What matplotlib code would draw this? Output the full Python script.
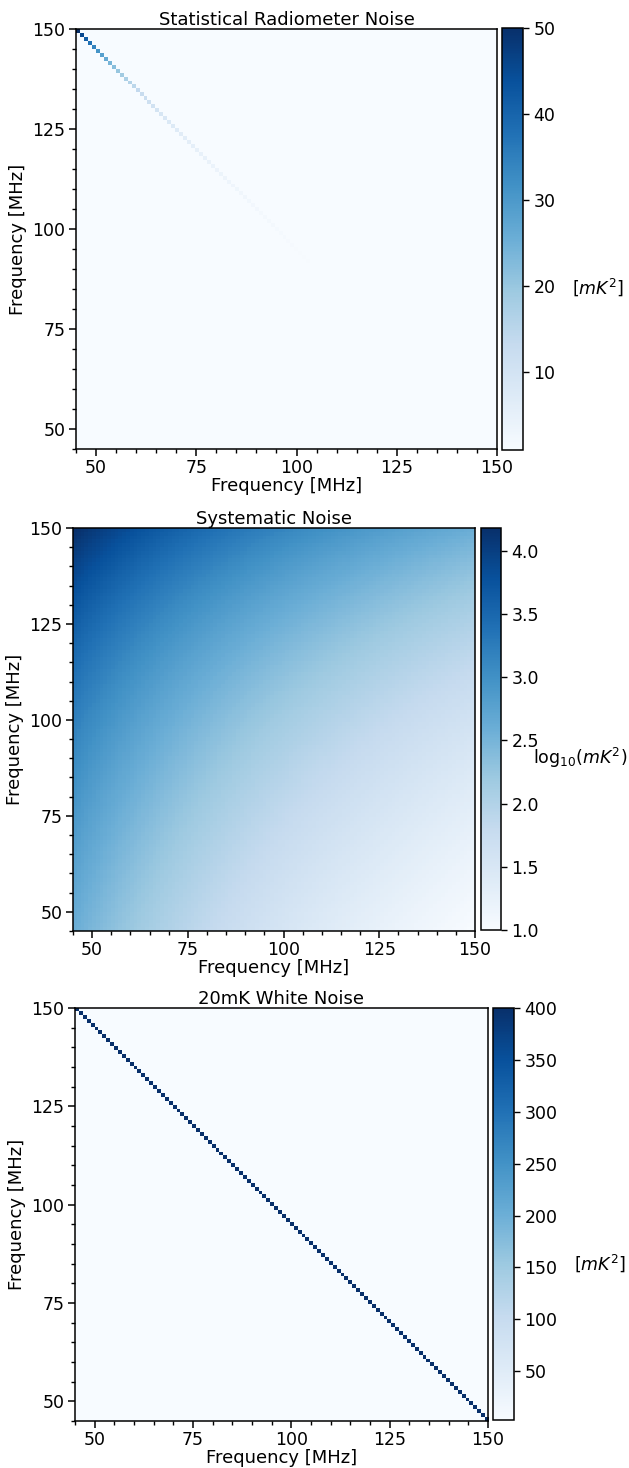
import numpy as np
import matplotlib
matplotlib.use('Agg')
import matplotlib.pyplot as plt
from matplotlib.ticker import MultipleLocator

# Frequency channels, 1 MHz steps
nu_min = 45
nu_max = 150
freqs = np.arange(nu_min, nu_max + 1)
nu_ref = 45.0

# Statistical radiometer noise: diagonal only, variance falls off as a power law
stat_peak = 50.0      # mK^2 at the lowest channel
stat_index = 4.5
stat_clim = (1.0, 50.0)

# Systematic noise: separable power law in both frequencies, shown as log10
sys_log_peak = 4.18   # log10(mK^2) at (45, 45)
sys_index = 3.04
sys_clim = (1.0, 4.18)

# 20 mK white noise
white_sigma = 20.0    # mK
white_clim = (3.0, 400.0)

titles = ['Statistical Radiometer Noise', 'Systematic Noise', '20mK White Noise']
cbar_labels = [r'$[mK^2]$', r'$\mathrm{log}_{10}(mK^2)$', r'$[mK^2]$']

# Build the three covariance matrices
ratio = freqs / nu_ref
stat_cov = np.diag(stat_peak * ratio**(-stat_index))
sys_cov = sys_log_peak - sys_index * (np.log10(ratio)[:, None] + np.log10(ratio)[None, :])
white_cov = np.diag(np.full(len(freqs), white_sigma**2))
matrices = [stat_cov, sys_cov, white_cov]
clims = [stat_clim, sys_clim, white_clim]

W, H = 629, 1468
fig = plt.figure(figsize=(W / 100, H / 100), dpi=100)

def box(x0, y0, x1, y1):
    # pixel box (top-left origin) -> figure fraction
    return [x0 / W, 1 - y1 / H, (x1 - x0) / W, (y1 - y0) / H]

ax_boxes = [box(76, 29, 497, 449), box(73, 528, 475, 931), box(75, 1008, 488, 1421)]
cb_boxes = [box(502, 28, 523, 450), box(481, 528, 501, 930), box(493, 1008, 514, 1420)]
label_pos = [(598, 287), (580, 758), (600, 1263)]

for i in range(3):
    ax = fig.add_axes(ax_boxes[i])
    im = ax.imshow(matrices[i], cmap='Blues', extent=[nu_min, nu_max, nu_min, nu_max],
                   vmin=clims[i][0], vmax=clims[i][1], interpolation='nearest', aspect='auto')
    ax.set_title(titles[i], fontsize=13, pad=3)
    ax.set_xlabel('Frequency [MHz]', fontsize=13, labelpad=0)
    ax.set_ylabel('Frequency [MHz]', fontsize=13)
    ax.xaxis.set_major_locator(MultipleLocator(25))
    ax.yaxis.set_major_locator(MultipleLocator(25))
    ax.xaxis.set_minor_locator(MultipleLocator(5))
    ax.yaxis.set_minor_locator(MultipleLocator(5))
    ax.tick_params(which='major', labelsize=12.5, length=5, width=1.1, pad=2.5)
    ax.tick_params(which='minor', length=3, width=1.0)
    for sp in ax.spines.values():
        sp.set_linewidth(1.1)

    cax = fig.add_axes(cb_boxes[i])
    cb = fig.colorbar(im, cax=cax)
    cb.ax.tick_params(labelsize=12.5, length=4, width=1.0)
    cb.outline.set_linewidth(1.1)
    lx, ly = label_pos[i]
    fig.text(lx / W, 1 - ly / H, cbar_labels[i], fontsize=12.5, ha='center', va='center')

fig.savefig('out.png', dpi=100)
